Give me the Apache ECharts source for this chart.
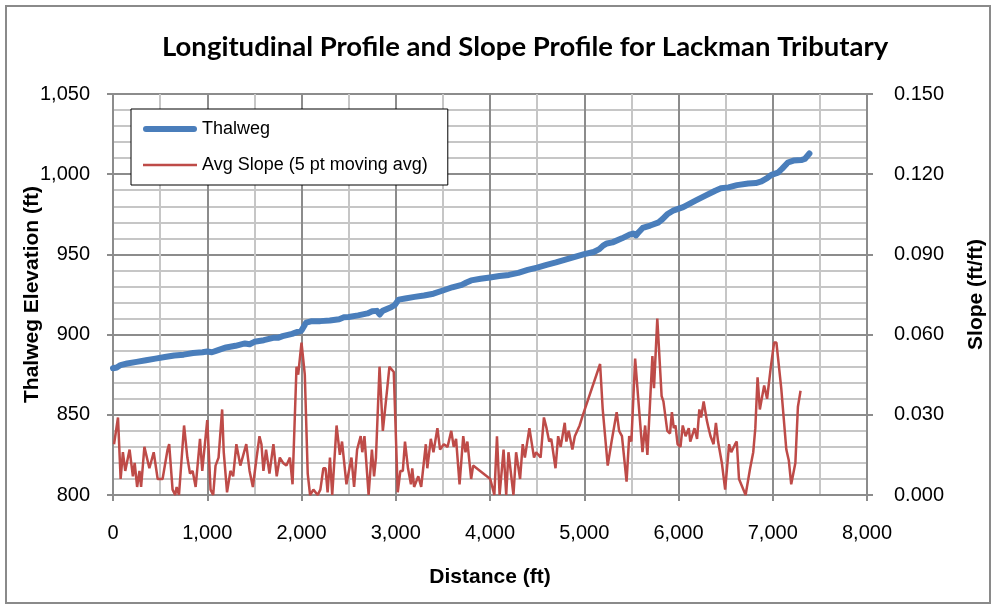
<!DOCTYPE html>
<html>
<head>
<meta charset="utf-8">
<script src="https://cdn.jsdelivr.net/npm/echarts@6/dist/echarts.min.js"></script>
<style>
html,body{margin:0;padding:0;background:#fff;}
#chart{width:995px;height:609px;}
</style>
</head>
<body>
<div id="chart"></div>
<script>
// ---- Data ----
const thalwegDist = [0,40,80,150,250,350,450,550,650,750,850,950,1000,1050,1100,1200,1300,1400,1450,1500,1600,1700,1750,1800,1900,1950,2000,2020,2050,2100,2200,2300,2400,2450,2500,2600,2700,2750,2800,2830,2860,2950,2990,3030,3100,3200,3300,3400,3500,3600,3700,3750,3800,3900,4000,4100,4200,4300,4400,4500,4600,4700,4800,4900,5000,5100,5160,5200,5240,5300,5400,5480,5520,5550,5580,5620,5700,5790,5830,5880,5950,6050,6180,6280,6390,6450,6530,6620,6740,6820,6880,6940,6986,7056,7100,7161,7220,7302,7340,7389];
const thalwegElev = [879,879.5,881,882,883,884,885,886,887,887.5,888.5,889,889.5,889,890,892,893,894.5,894,895.5,896.5,898,898,899,900.5,901.5,902.5,903,907.5,908.3,908.4,908.8,909.6,910.8,911,912,913.2,914.5,914.8,912.5,914.8,917,918.5,921.8,922.5,923.5,924.4,925.5,927.5,929.5,931,932.5,933.8,934.8,935.6,936.5,937.2,938.5,940.3,941.8,943.5,945,946.7,948.5,950.2,951.5,953.3,955.5,956.8,957.5,960,962.3,963,961.8,964,966.5,968,970,972,975,977.5,979.5,983.5,986.5,989.7,991.2,991.8,993.2,994.2,994.5,995.5,997.5,999.6,1001,1003.5,1007.3,1008.5,1008.8,1009.5,1012.9];

const slopeDist = [11,53,81,105,130,176,211,230,256,281,298,333,350,386,432,474,526,579,596,632,660,675,700,719,754,789,817,845,877,923,947,1000,1035,1063,1088,1120,1158,1175,1210,1246,1275,1309,1351,1414,1449,1484,1520,1554,1575,1596,1624,1660,1702,1737,1770,1805,1840,1877,1905,1947,1965,2000,2035,2066,2091,2126,2172,2200,2232,2255,2277,2302,2326,2372,2407,2430,2477,2530,2558,2590,2628,2645,2668,2712,2747,2770,2790,2828,2863,2880,2910,2933,2979,3021,3049,3075,3098,3130,3161,3175,3195,3239,3270,3319,3335,3372,3400,3442,3470,3510,3550,3589,3615,3640,3677,3716,3740,3760,3800,3821,4003,4046,4074,4102,4144,4172,4196,4249,4277,4319,4347,4370,4418,4467,4490,4537,4572,4600,4628,4650,4695,4723,4750,4793,4810,4835,4874,4900,4951,4986,5168,5196,5249,5290,5344,5370,5400,5449,5477,5500,5540,5575,5590,5618,5646,5670,5723,5740,5775,5821,5840,5881,5910,5930,5950,5968,5990,6021,6045,6075,6109,6125,6144,6170,6197,6221,6240,6267,6300,6319,6340,6372,6397,6420,6460,6495,6537,6560,6600,6618,6642,6712,6760,6793,6815,6839,6863,6909,6940,6980,7014,7039,7090,7144,7170,7196,7214,7240,7267,7295];
const slopeVal = [.019,.029,.006,.016,.009,.017,.007,.012,.003,.009,.003,.018,.018,.010,.016,.006,.006,.017,.019,.002,0,.003,0,0,.026,.014,.008,.009,.003,.021,.009,.028,.002,0,.011,.014,.032,.016,.001,.009,.007,.019,.011,.019,.009,.003,.013,.022,.019,.009,.017,.008,.019,.007,.014,.012,.011,.014,.004,.048,.045,.057,.045,.008,0,.002,0,.002,.010,.010,.001,.014,0,.026,.015,.020,.004,.014,.003,.017,.022,.016,.022,0,.017,.007,.014,.048,.024,.024,.040,.048,.046,.001,.009,.009,.020,.010,.004,.010,.003,.007,.003,.019,.010,.021,.016,.025,.017,.019,.018,.024,.018,.021,.004,.022,.016,.020,.006,.011,.006,0,.022,0,.017,0,.016,0,.016,.006,.019,.014,.025,.014,.016,.014,.029,.025,.020,.021,.010,.022,.018,.027,.020,.024,.017,.022,.026,.030,.049,.032,.011,.020,.031,.024,.022,.005,.022,.020,.051,.035,.035,.016,.026,.015,.052,.040,.066,.037,.035,.024,.023,.031,.025,.026,.019,.018,.026,.022,.025,.020,.020,.025,.021,.032,.029,.035,.028,.025,.022,.019,.027,.020,.012,.002,.019,.016,.019,.020,.006,0,.010,.016,.025,.044,.032,.041,.036,.048,.057,.057,.040,.017,.013,.004,.004,.012,.033,.039];

const titleText = 'Longitudinal Profile and Slope Profile for Lackman Tributary';
const seriesNames = ['Thalweg', 'Avg Slope (5 pt moving avg)'];
const axisNames = {x: 'Distance (ft)', left: 'Thalweg Elevation (ft)', right: 'Slope (ft/ft)'};

// ---- Chart ----
const chart = echarts.init(document.getElementById('chart'), null, {renderer: 'canvas'});
const fmtComma = v => v.toLocaleString('en-US');
const tickFont = {fontFamily: 'Liberation Sans', fontSize: 20, color: '#000'};
const nameFont = {fontFamily: 'Liberation Sans', fontSize: 21, fontWeight: 'bold', color: '#000'};
const majorGrid = {show: true, lineStyle: {color: '#8c8c8c', width: 2}};
const minorGrid = {show: true, lineStyle: {color: '#c6c6c6', width: 2}};
const axisLineStyle = {show: true, lineStyle: {color: '#8c8c8c', width: 2}};
const axisTickStyle = {show: true, length: 6, lineStyle: {color: '#8c8c8c', width: 2}};

chart.setOption({
  animation: false,
  backgroundColor: '#fff',
  title: {
    text: titleText, left: 162, top: 33, padding: 0,
    textStyle: {fontFamily: 'Lato', fontWeight: 'bold', fontSize: 27.5, color: '#000'}
  },
  graphic: [{
    type: 'rect', silent: true, z: -1,
    shape: {x: 6, y: 6, width: 984, height: 597},
    style: {fill: 'none', stroke: '#8a8a8a', lineWidth: 2}
  }],
  legend: {
    left: 131, top: 109, orient: 'vertical',
    backgroundColor: '#fff', borderColor: '#000', borderWidth: 1,
    padding: [11, 20, 11, 12],
    itemWidth: 54, itemHeight: 14, itemGap: 18,
    itemStyle: {borderWidth: 0},
    textStyle: {fontFamily: 'Liberation Sans', fontSize: 18, color: '#000'},
    data: [
      {name: seriesNames[0], icon: 'path://M3,0 L51,0 A3,3 0 0 1 51,6 L3,6 A3,3 0 0 1 3,0 Z'},
      {name: seriesNames[1], icon: 'path://M0,0 L54,0 L54,2.5 L0,2.5 Z'}
    ]
  },
  grid: {left: 113, right: 122, top: 94, bottom: 114, containLabel: false},
  xAxis: {
    type: 'value', min: 0, max: 8000, interval: 1000,
    name: axisNames.x, nameLocation: 'middle', nameGap: 72, nameMoveOverlap: false, nameTextStyle: nameFont,
    axisLine: axisLineStyle, axisTick: axisTickStyle,
    axisLabel: Object.assign({margin: 28, formatter: fmtComma}, tickFont),
    splitLine: majorGrid,
    minorTick: {show: false, splitNumber: 2},
    minorSplitLine: minorGrid
  },
  yAxis: [{
    type: 'value', min: 800, max: 1050, interval: 50, position: 'left',
    name: axisNames.left, nameLocation: 'middle', nameGap: 70, nameMoveOverlap: false, nameRotate: 90, nameTextStyle: nameFont,
    axisLine: axisLineStyle, axisTick: axisTickStyle,
    axisLabel: Object.assign({margin: 23, formatter: fmtComma}, tickFont),
    splitLine: majorGrid,
    minorTick: {show: false, splitNumber: 5},
    minorSplitLine: minorGrid
  }, {
    type: 'value', min: 0, max: 0.15, interval: 0.03, position: 'right',
    name: axisNames.right, nameLocation: 'middle', nameGap: 99, nameMoveOverlap: false, nameRotate: 90, nameTextStyle: nameFont,
    axisLine: axisLineStyle, axisTick: axisTickStyle,
    axisLabel: Object.assign({margin: 27, formatter: v => v.toFixed(3)}, tickFont),
    splitLine: {show: false}
  }],
  series: [{
    name: seriesNames[0], type: 'line', yAxisIndex: 0,
    data: thalwegDist.map((d, i) => [d, thalwegElev[i]]),
    symbol: 'none', smooth: false,
    lineStyle: {color: '#4a7ebb', width: 6, cap: 'round', join: 'round'},
    itemStyle: {color: '#4a7ebb'},
    z: 3
  }, {
    name: seriesNames[1], type: 'line', yAxisIndex: 1,
    data: slopeDist.map((d, i) => [d, slopeVal[i]]),
    symbol: 'none', smooth: false,
    lineStyle: {color: '#be4b48', width: 2.5},
    itemStyle: {color: '#be4b48'},
    z: 2
  }]
});
</script>
</body>
</html>
